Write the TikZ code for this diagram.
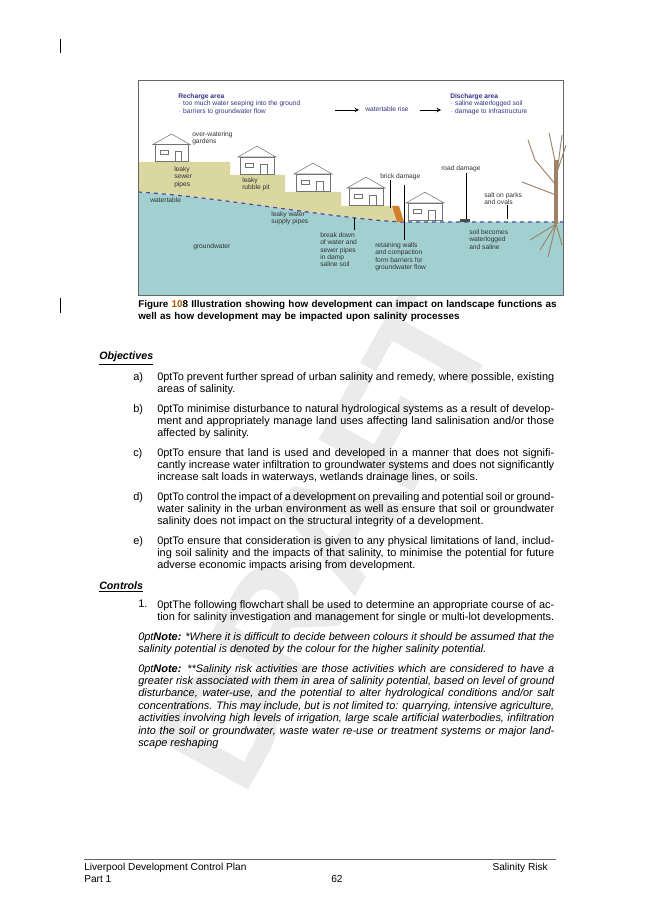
\documentclass[tikz,border=0pt]{standalone}
\usepackage{fontspec}
\setmainfont{Liberation Sans}
\tikzset{
 body/.style={anchor=north west,inner sep=0pt,align=justify,font=\fontsize{8.2}{9.3}\selectfont\hyphenpenalty=10000\exhyphenpenalty=10000\emergencystretch=20pt},
 lbl/.style={anchor=north west,inner sep=0pt,font=\fontsize{8.2}{9.3}\selectfont},
 fig/.style={inner sep=0pt,align=left,font=\fontsize{5}{5.6}\selectfont,text=black!80},
 hdr/.style={inner sep=0pt,align=left,font=\fontsize{5}{5.6}\selectfont,text=blue!40!black!80},
 house/.style={fill=white,draw=black!55,line width=0.4pt},
 arr/.style={-stealth,line width=0.5pt}
}
\newcommand{\house}[3]{% x,y(base),w
 \fill[house] (#1,#2) rectangle ++(#3,-0.5*#3);
 \fill[house] (#1-2,#2-0.5*#3) -- ++(#3/2+2,-0.32*#3) -- ++(#3/2+2,0.32*#3) -- cycle;
 \draw[black!55,line width=0.3pt] (#1+0.15*#3,#2-0.33*#3) rectangle ++(0.25*#3,0.12*#3);
 \draw[black!55,line width=0.3pt] (#1+0.6*#3,#2) rectangle ++(0.2*#3,-0.3*#3);}
\begin{document}
\begin{tikzpicture}[x=0.75pt,y=-0.75pt]
\useasboundingbox (0,0) rectangle (653,923);
\fill[white] (0,0) rectangle (653,923);
% watermark
\node[rotate=61,font=\fontsize{118}{118}\selectfont\bfseries,text=black!8] (wm) at (325,540) {DRAFT};
% margin marks
\draw[black,line width=0.5pt] (60,39) -- (60,53);
\draw[black,line width=0.5pt] (60,298) -- (60,313);
% figure
\fill[white] (138,80) rectangle (563,295);
\fill[teal!35!cyan!25!white!85!black] (138,192) .. controls (220,197) and (330,218) .. (401,222) -- (563,222) -- (563,295) -- (138,295) -- cycle;
\fill[olive!35!yellow!30!white!88!black] (138,162) -- (230,162) -- (230,175) -- (285,175) -- (285,192) -- (341,192) -- (341,206) -- (391,206) -- (401,222) -- (563,222) -- (401,222) .. controls (330,218) and (220,197) .. (138,192) -- cycle;
\draw[blue!50!black!70,dashed,line width=0.9pt] (138,192) .. controls (220,197) and (330,218) .. (401,222) -- (563,222);
\draw[black!60,line width=0.4pt] (138,80) rectangle (563,295);
\fill[brown!70!orange] (392,206) -- (399,206) -- (404,222) -- (397,222) -- cycle;
\house{155}{161}{33}
\house{240}{174}{34}
\house{296}{191}{34}
\house{349}{205}{34}
\house{408}{220}{34}
\fill[black!70] (460,219) rectangle (470,222);
% tree
\draw[brown!60!black!70,line width=2.5pt] (556,224) -- (556,160);
\draw[brown!60!black!70,line width=0.7pt] (556,185) -- (535,160) (556,175) -- (566,145) (556,195) -- (522,182) (535,160) -- (528,140) (556,165) -- (549,133) (556,180) -- (562,135)
 (556,224) -- (540,250) (556,224) -- (548,257) (556,224) -- (562,245) (556,224) -- (530,240);
% figure text
\node[hdr,anchor=north west] (rh) at (178,93) {\textbf{Recharge area}\\$\cdot$ too much water seeping into the ground\\$\cdot$ barriers to groundwater flow};
\node[hdr] (wr) at (387,109) {watertable rise};
\node[hdr,anchor=north west] (dh) at (450,93) {\textbf{Discharge area}\\$\cdot$ saline waterlogged soil\\$\cdot$ damage to infrastructure};
\coordinate (a1) at (335,110); \coordinate (a2) at (359,110);
\coordinate (a3) at (420,110); \coordinate (a4) at (441,110);
\draw[arr] (a1) -- (a2); \draw[arr] (a3) -- (a4);
\node[fig,anchor=north west] at (192,131) {over-watering\\gardens};
\node[fig,anchor=north west] at (174,166) {leaky\\sewer\\pipes};
\node[fig,anchor=north west] at (242,177) {leaky\\rubble pit};
\node[fig,anchor=north west] at (150,197) {watertable};
\node[fig,anchor=north west] at (271,211) {leaky water\\supply pipes};
\node[fig,anchor=north west] at (193,243) {groundwater};
\node[fig,anchor=north west] at (320,232) {break down\\of water and\\sewer pipes\\in damp\\saline soil};
\node[fig,anchor=north west] at (375,242) {retaining walls\\and compaction\\form barriers for\\groundwater flow};
\node[fig,anchor=north west] at (380,173) {brick damage};
\node[fig,anchor=north west] at (441,165) {road damage};
\node[fig,anchor=north west] at (484,192) {salt on parks\\and ovals};
\node[fig,anchor=north west] at (469,229) {soil becomes\\waterlogged\\and saline};
\draw[line width=0.5pt] (466,173) -- (466,219) (390,180) -- (390,208) (404,185) -- (404,240) (354,230) -- (354,218) (507,205) -- (507,219);
% caption
\node[lbl,text width=420pt*0.75,align=left,font=\fontsize{7.4}{9.3}\selectfont\bfseries] (cap) at (138,300) {Figure {\color{orange!70!black}10}8 Illustration showing how development can impact on landscape functions as well as how development may be impacted upon salinity processes};
% objectives
\node[lbl,font=\fontsize{8}{9.3}\selectfont\bfseries\itshape] (obj) at (99,352) {\underline{Objectives}};
\foreach \l/\y/\t in {a)/372/{To prevent further spread of urban salinity and remedy, where possible, existing areas of salinity.},
 b)/404/{To minimise disturbance to natural hydrological systems as a result of development and appropriately manage land uses affecting land salinisation and/or those affected by salinity.},
 c)/448/{To ensure that land is used and developed in a manner that does not significantly increase water infiltration to groundwater systems and does not significantly increase salt loads in waterways, wetlands drainage lines, or soils.},
 d)/492/{To control the impact of a development on prevailing and potential soil or groundwater salinity in the urban environment as well as ensure that soil or groundwater salinity does not impact on the structural integrity of a development.},
 e)/536/{To ensure that consideration is given to any physical limitations of land, including soil salinity and the impacts of that salinity, to minimise the potential for future adverse economic impacts arising from development.}}
 {\node[lbl] at (133,\y) {\l};
  \node[body,text width=397pt*0.75] at (157,\y) {\t};}
\node[lbl,font=\fontsize{8}{9.3}\selectfont\bfseries\itshape] (ctl) at (99,581) {\underline{Controls}};
\node[lbl] at (138,600) {1.};
\node[body,text width=397pt*0.75] at (157,600) {The following flowchart shall be used to determine an appropriate course of action for salinity investigation and management for single or multi-lot developments.};
\node[body,text width=416pt*0.75,font=\fontsize{8.2}{9.3}\selectfont\itshape\hyphenpenalty=10000\emergencystretch=20pt] at (138,632) {\textbf{Note:} *Where it is difficult to decide between colours it should be assumed that the salinity potential is denoted by the colour for the higher salinity potential.};
\node[body,text width=416pt*0.75,font=\fontsize{8.2}{9.3}\selectfont\itshape\hyphenpenalty=10000\emergencystretch=20pt] at (138,664) {\textbf{Note:} **Salinity risk activities are those activities which are considered to have a greater risk associated with them in area of salinity potential, based on level of ground disturbance, water-use, and the potential to alter hydrological conditions and/or salt concentrations. This may include, but is not limited to: quarrying, intensive agriculture, activities involving high levels of irrigation, large scale artificial waterbodies, infiltration into the soil or groundwater, waste water re-use or treatment systems or major landscape reshaping};
% footer
\draw[black!60,line width=0.4pt] (84,859) -- (556,859);
\node[lbl,font=\fontsize{7.6}{8}\selectfont] at (84,863) {Liverpool Development Control Plan};
\node[lbl,font=\fontsize{7.6}{8}\selectfont] at (84,875) {Part 1};
\node[lbl,font=\fontsize{7.6}{8}\selectfont] at (331,875) {62};
\node[lbl,anchor=north east,font=\fontsize{7.6}{8}\selectfont] at (548,863) {Salinity Risk};
\end{tikzpicture}
\end{document}
